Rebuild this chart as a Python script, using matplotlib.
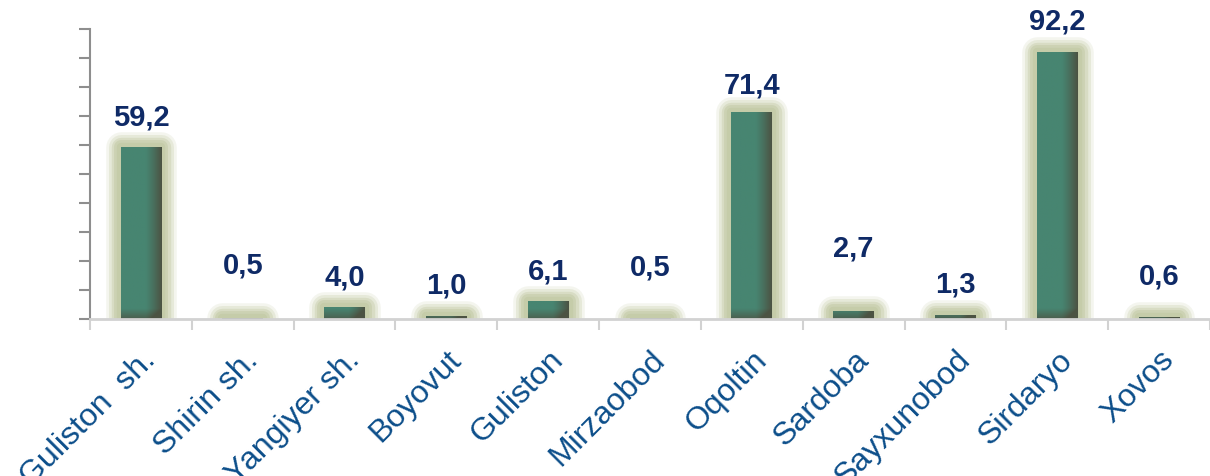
import numpy as np
import matplotlib
matplotlib.use("Agg")
import matplotlib.pyplot as plt
import matplotlib.patheffects as pe
from matplotlib.colors import to_rgb

# --- data ---
districts = ["Guliston  sh.", "Shirin sh.", "Yangiyer sh.", "Boyovut", "Guliston",
             "Mirzaobod", "Oqoltin", "Sardoba", "Sayxunobod", "Sirdaryo", "Xovos"]
values = [59.2, 0.5, 4.0, 1.0, 6.1, 0.5, 71.4, 2.7, 1.3, 92.2, 0.6]
value_labels = ["59,2", "0,5", "4,0", "1,0", "6,1", "0,5", "71,4", "2,7", "1,3", "92,2", "0,6"]

# label offsets above bar tops (points) - placed by hand in the original
label_pad = [12, 28, 12, 13, 12, 27, 10, 36, 13, 12, 20]

plt.rcParams['font.family'] = ['Liberation Sans', 'DejaVu Sans']

fig = plt.figure(figsize=(12.10, 4.77), dpi=100)
ax = fig.add_axes([90 / 1210, 157 / 477, 1120 / 1210, 290 / 477])

x = np.arange(len(districts))
bar_w = 0.4
green = np.array(to_rgb("#478571"))
dark = np.array(to_rgb("#4c5343"))
glow = "#c3caa6"

glow_fx = [pe.Stroke(linewidth=lw, foreground=glow, alpha=a, joinstyle="round")
           for lw, a in [(22, 0.18), (18, 0.28), (14, 0.4), (10, 0.55), (6, 0.75)]] + [pe.Normal()]

bars = ax.bar(x, values, width=bar_w, color=green, edgecolor="none",
              zorder=2, path_effects=glow_fx)

# gradient fill inside every bar: darker right edge and bottom
nx, ny = 60, 200
tx = np.linspace(0, 1, nx)
hx = np.clip((tx - 0.6) / 0.4, 0, 1) ** 1.2
for b, v in zip(bars, values):
    y0, y1 = 0, v
    yy = np.linspace(y0, y1, ny)
    hy = np.clip(1 - yy / 3.5, 0, 1) * 0.75
    mix = np.clip(hx[None, :] + hy[:, None], 0, 1)
    img = green[None, None, :] * (1 - mix[..., None]) + dark[None, None, :] * mix[..., None]
    im = ax.imshow(img, extent=[b.get_x(), b.get_x() + b.get_width(), y0, y1],
                   origin="lower", aspect="auto", zorder=3, interpolation="bilinear")
    im.set_clip_path(b)

for xi, v, lab, pad in zip(x, values, value_labels, label_pad):
    ax.annotate(lab, (xi, v), xytext=(0, pad), textcoords="offset points",
                ha="center", va="bottom", fontsize=21, fontweight="bold",
                color="#0f2a66", zorder=5)

ax.set_xlim(-0.49, 10.385)
ax.set_ylim(0, 100)
ax.set_yticks(np.arange(0, 101, 10))
ax.set_yticklabels([])
ax.tick_params(axis="y", length=8, width=1.5, color="#8e8e8e", direction="out")

ax.set_xticks(x)
ax.set_xticklabels(districts, rotation=45, ha="right", va="top",
                   rotation_mode="anchor", fontsize=23, color="#0c4e8a")
ax.tick_params(axis="x", which="major", length=0, pad=18)
ax.set_xticks(np.arange(-0.5, len(districts), 1), minor=True)
ax.tick_params(axis="x", which="minor", length=8, width=1.5, color="#d2d2d2")

for s in ["top", "right"]:
    ax.spines[s].set_visible(False)
ax.spines["left"].set_color("#8e8e8e")
ax.spines["left"].set_linewidth(1.5)
ax.spines["bottom"].set_color("#d2d2d2")
ax.spines["bottom"].set_linewidth(2)
ax.spines["bottom"].set_zorder(4)

fig.savefig("out.png", dpi=100)
